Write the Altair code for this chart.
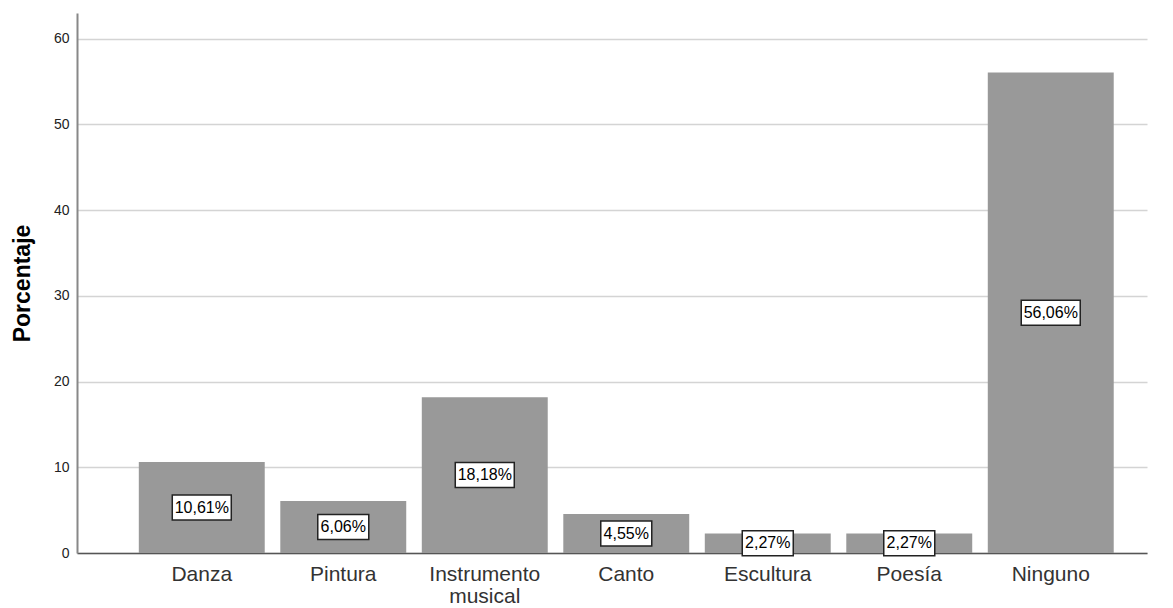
import altair as alt
import pandas as pd

categories = ["Danza", "Pintura", "Instrumento musical", "Canto", "Escultura", "Poesía", "Ninguno"]
percentages = [10.61, 6.06, 18.18, 4.55, 2.27, 2.27, 56.06]
labels = ["10,61%", "6,06%", "18,18%", "4,55%", "2,27%", "2,27%", "56,06%"]
y_ticks = [0, 10, 20, 30, 40, 50, 60]

df = pd.DataFrame({"cat": categories, "pct": percentages, "label": labels})

FONT = "Liberation Sans"

x = alt.X(
    "cat:N",
    sort=categories,
    scale=alt.Scale(paddingInner=0.11, paddingOuter=0.336, align=0.65),
    axis=alt.Axis(
        title=None,
        labelAngle=0,
        labelFont=FONT,
        labelFontSize=21,
        labelColor="#333333",
        labelPadding=10,
        labelLineHeight=22,
        labelExpr="split(datum.value, ' ')",
        ticks=False,
        domainColor="#555555",
        domainWidth=1.5,
        grid=False,
    ),
)

y_scale = alt.Scale(domain=[0, 63], nice=False)

bars = alt.Chart(df).mark_bar(color="#999999").encode(
    x=x,
    y=alt.Y(
        "pct:Q",
        scale=y_scale,
        axis=alt.Axis(
            title="Porcentaje",
            titleFont=FONT,
            titleFontSize=23,
            titleFontWeight="bold",
            titleColor="#000000",
            titlePadding=19,
            values=y_ticks,
            labelFont=FONT,
            labelFontSize=14,
            labelColor="#222222",
            labelPadding=8,
            ticks=False,
            domainColor="#888888",
            domainWidth=2,
            gridColor="#d4d4d4",
            gridWidth=1.5,
        ),
    ),
)

boxes = alt.Chart(df).transform_calculate(
    mid="datum.pct / 2",
    boxw="8 * length(datum.label) + 11",
).mark_tick(
    orient="horizontal",
    thickness=25,
    fill="white",
    stroke="#222222",
    strokeWidth=1.5,
    opacity=1,
    filled=True,
).encode(
    x=alt.X("cat:N", sort=categories),
    y=alt.Y("mid:Q", scale=y_scale),
    size=alt.Size("boxw:Q", scale=None, legend=None),
)

texts = alt.Chart(df).transform_calculate(
    mid="datum.pct / 2",
).mark_text(
    font=FONT,
    fontSize=16,
    color="#000000",
    baseline="middle",
    align="center",
).encode(
    x=alt.X("cat:N", sort=categories),
    y=alt.Y("mid:Q", scale=y_scale),
    text="label:N",
)

chart = alt.layer(bars, boxes, texts).properties(
    width=1070,
    height=540,
    autosize=alt.AutoSizeParams(type="none"),
    padding={"left": 69, "top": 5, "right": 10, "bottom": 58},
    background="white",
).configure_view(stroke=None)

chart.save("out.html", embed_options={"renderer": "svg", "actions": False})
